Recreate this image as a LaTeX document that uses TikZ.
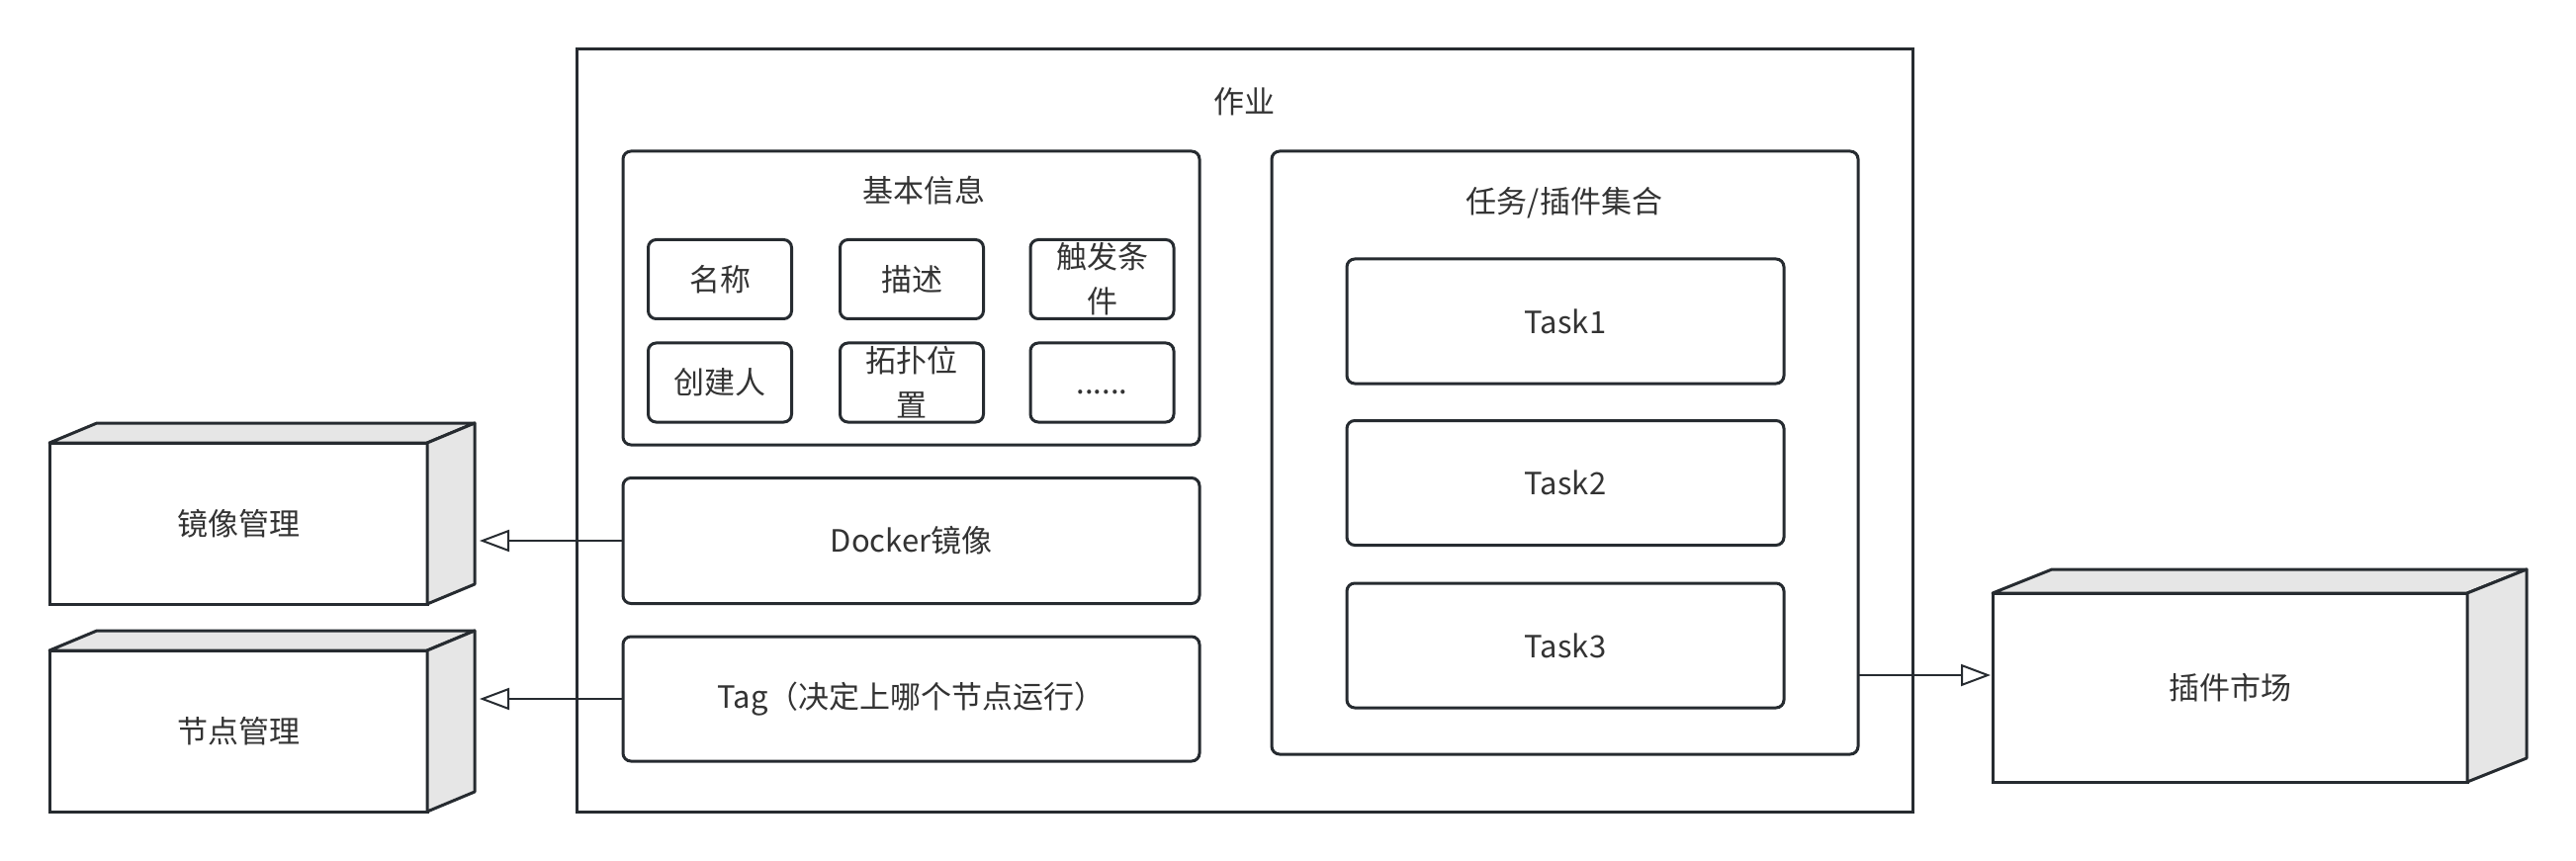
\documentclass[tikz,border=0pt]{standalone}
\usepackage{fontspec}
\setmainfont{Noto Sans CJK SC}
\usetikzlibrary{arrows.meta}
\definecolor{ln}{HTML}{262B30}
\definecolor{tx}{HTML}{333333}
\definecolor{sd}{HTML}{E6E6E6}
\begin{document}
\begin{tikzpicture}[x=0.5pt,y=-0.5pt,
  every node/.style={inner sep=0pt, outer sep=0pt, text=tx, font=\fontsize{15.5}{22.5}\selectfont},
  frame/.style={draw=ln, line width=1.5pt},
  rbox/.style={draw=ln, line width=1.5pt, rounded corners=4pt, fill=white},
  wh/.style 2 args={minimum width=#1*0.5pt, minimum height=#2*0.5pt},
  face/.style={draw=ln, line width=1.5pt, fill=sd, line join=round},
  arr/.style={draw=ln, line width=1pt, -{Triangle[open, length=15pt, width=11pt, fill=white]}},
]
\useasboundingbox (0,0) rectangle (2605,871);
% main frame
\node[frame, wh={1351}{771}] (job) at (1258.5,435.5) {};
\node (jobl) at (1258,103) {作业};
% basic info
\node[rbox, wh={583}{297}] (info) at (921.5,301.5) {};
\node (infol) at (934,193) {基本信息};
\node[rbox, wh={145}{80}] (n1) at (728,282.5) {名称};
\node[rbox, wh={145}{80}] (n2) at (922,282.5) {描述};
\node[rbox, wh={145}{80}, align=center] (n3) at (1114.5,282.5) {触发条\\件};
\node[rbox, wh={145}{80}] (n4) at (728,387) {创建人};
\node[rbox, wh={145}{80}, align=center] (n5) at (922,387) {拓扑位\\置};
\node[rbox, wh={145}{80}] (n6) at (1114.5,387) {\vphantom{创}......};
\node[rbox, wh={583}{127}] (docker) at (921.5,547) {Docker镜像};
\node[rbox, wh={583}{126}] (tag) at (921.5,707) {Tag（决定上哪个节点运行）};
% tasks
\node[rbox, wh={593}{610}] (tasks) at (1582.5,458) {};
\node (tasksl) at (1582,205) {任务/插件集合};
\node[rbox, wh={442}{126}] (t1) at (1583,325) {Task1};
\node[rbox, wh={442}{126}] (t2) at (1583,488.5) {Task2};
\node[rbox, wh={442}{126}] (t3) at (1583,653) {Task3};
% cubes
\node[frame, fill=white, wh={382}{163}] (img) at (241,529.5) {镜像管理};
\draw[face] (img.north west) -- ([shift={(48,-20)}]img.north west) -- ([shift={(48,-20)}]img.north east) -- (img.north east) -- cycle;
\draw[face] (img.north east) -- ([shift={(48,-20)}]img.north east) -- ([shift={(48,-20)}]img.south east) -- (img.south east) -- cycle;
\node[frame, fill=white, wh={382}{163}] (nodem) at (241,739.5) {节点管理};
\draw[face] (nodem.north west) -- ([shift={(48,-20)}]nodem.north west) -- ([shift={(48,-20)}]nodem.north east) -- (nodem.north east) -- cycle;
\draw[face] (nodem.north east) -- ([shift={(48,-20)}]nodem.north east) -- ([shift={(48,-20)}]nodem.south east) -- (nodem.south east) -- cycle;
\node[frame, fill=white, wh={480}{191}] (mkt) at (2255,695.5) {插件市场};
\draw[face] (mkt.north west) -- ([shift={(60,-24)}]mkt.north west) -- ([shift={(60,-24)}]mkt.north east) -- (mkt.north east) -- cycle;
\draw[face] (mkt.north east) -- ([shift={(60,-24)}]mkt.north east) -- ([shift={(60,-24)}]mkt.south east) -- (mkt.south east) -- cycle;
% connectors
\coordinate (a1) at (485,547);
\coordinate (a2) at (485,707);
\coordinate (a3) at (2013,683);
\draw[arr] (docker.west) -- (a1);
\draw[arr] (tag.west) -- (a2);
\draw[arr] (tasks.east |- a3) -- (a3);
\end{tikzpicture}
\end{document}
